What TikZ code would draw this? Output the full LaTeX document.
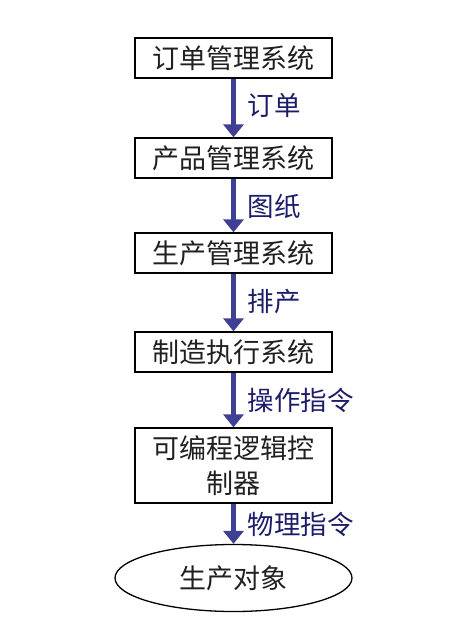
\documentclass[tikz,border=0pt]{standalone}
\usepackage{fontspec}
\setmainfont{Noto Sans CJK SC}
\usetikzlibrary{arrows.meta,positioning,shapes.geometric}
\definecolor{flow}{HTML}{3F3F94}
\definecolor{lbl}{HTML}{1C1C6A}
\definecolor{boxtext}{HTML}{202020}

\begin{document}
\begin{tikzpicture}[x=1pt,y=-1pt,
  sysbox/.style={draw,line width=1.3pt,minimum width=197pt,minimum height=40pt,inner sep=0pt,
    text=boxtext,font=\fontsize{27}{35}\selectfont},
  flowarrow/.style={flow,line width=5pt,-{Triangle[width=20pt,length=13pt]}},
  flowlabel/.style={lbl,anchor=west,font=\fontsize{26.5}{30}\selectfont}]
  \useasboundingbox (0,0) rectangle (461,624);

  % Systems
  \node[sysbox] (order) at (233.5,58) {订单管理系统};
  \node[sysbox] (product) at (233.5,158) {产品管理系统};
  \node[sysbox] (produce) at (233.5,253) {生产管理系统};
  \node[sysbox] (mes) at (233.5,352) {制造执行系统};
  \node[sysbox,minimum height=75pt,text width=190pt,align=center] (plc) at (233.5,465.5) {可编程逻辑控\\制器};
  \node[draw,line width=1.3pt,ellipse,minimum width=237pt,minimum height=67pt,inner sep=0pt,
    text=boxtext,font=\fontsize{27}{30}\selectfont] (target) at (233.5,578) {生产对象};

  % Flows
  \draw[flowarrow] (order) -- (product);
  \draw[flowarrow] (product) -- (produce);
  \draw[flowarrow] (produce) -- (mes);
  \draw[flowarrow] (mes) -- (plc);
  \draw[flowarrow] (plc) -- (target);

  \node[flowlabel] (l1) at (244,105) {订单};
  \node[flowlabel] (l2) at (244,206) {图纸};
  \node[flowlabel] (l3) at (244,302) {排产};
  \node[flowlabel] (l4) at (244,400) {操作指令};
  \node[flowlabel] (l5) at (244,524) {物理指令};
\end{tikzpicture}
\end{document}
